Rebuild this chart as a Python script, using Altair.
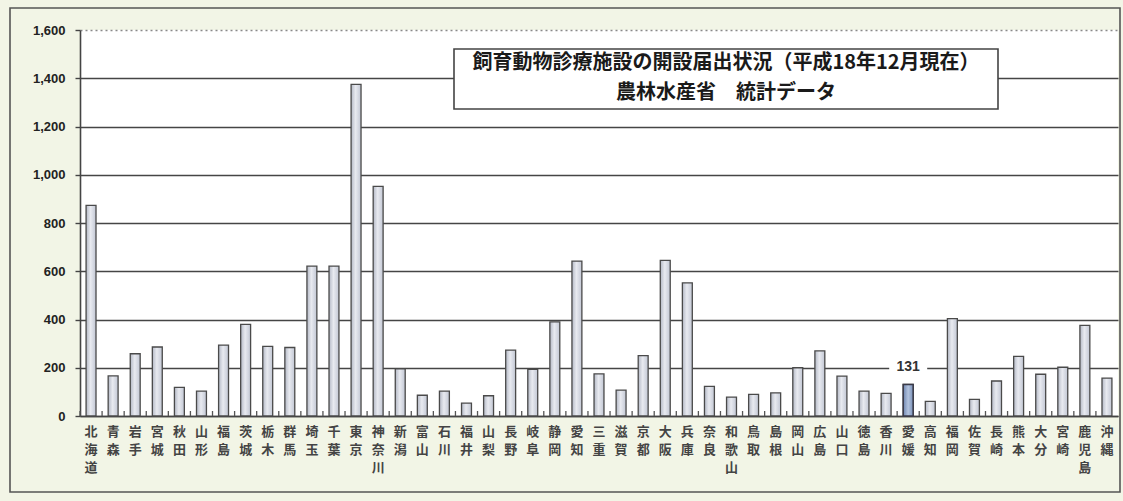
import altair as alt
import pandas as pd

# ---- data ----
prefectures = [
    "北海道", "青森", "岩手", "宮城", "秋田", "山形", "福島", "茨城", "栃木", "群馬",
    "埼玉", "千葉", "東京", "神奈川", "新潟", "富山", "石川", "福井", "山梨", "長野",
    "岐阜", "静岡", "愛知", "三重", "滋賀", "京都", "大阪", "兵庫", "奈良", "和歌山",
    "鳥取", "島根", "岡山", "広島", "山口", "徳島", "香川", "愛媛", "高知", "福岡",
    "佐賀", "長崎", "熊本", "大分", "宮崎", "鹿児島", "沖縄",
]
clinics = [
    873, 166, 258, 286, 119, 103, 294, 380, 289, 284,
    621, 621, 1375, 952, 195, 86, 103, 53, 84, 273,
    193, 390, 642, 175, 107, 250, 645, 552, 123, 78,
    90, 96, 200, 270, 165, 103, 94, 131, 61, 404,
    69, 145, 247, 173, 202, 376, 157,
]
highlight_pref = "愛媛"
y_ticks = [0, 200, 400, 600, 800, 1000, 1200, 1400, 1600]
title_line1 = "飼育動物診療施設の開設届出状況（平成18年12月現在）"
title_line2 = "農林水産省　統計データ"

df = pd.DataFrame({"pref": prefectures, "n": clinics})
one = pd.DataFrame({"k": [0]})

W, H = 1038, 386
STEP = W / len(prefectures)
JP = "Noto Sans CJK JP"

x_enc = alt.X(
    "pref:N",
    sort=prefectures,
    scale=alt.Scale(paddingInner=0.55, paddingOuter=0.275),
    axis=alt.Axis(
        title=None,
        labelExpr="split(datum.label, '')",
        labelAngle=0,
        labelAlign="center",
        labelBaseline="top",
        labelFont=JP,
        labelFontWeight="bold",
        labelFontSize=13,
        labelColor="#444444",
        labelLineHeight=18,
        labelPadding=9,
        ticks=False,
        grid=False,
        domain=True,
        domainColor="#444444",
        domainWidth=1.6,
    ),
)
y_enc = alt.Y(
    "n:Q",
    scale=alt.Scale(domain=[0, 1600], nice=False),
    axis=alt.Axis(
        title=None,
        values=y_ticks,
        format=",d",
        labelFont="Liberation Sans",
        labelFontWeight="bold",
        labelFontSize=13,
        labelColor="#222222",
        labelPadding=10,
        ticks=True,
        tickSize=5,
        tickColor="#444444",
        tickWidth=1.4,
        grid=True,
        gridColor={"condition": {"test": "datum.value == 1600", "value": "#8a8a8a"}, "value": "#454545"},
        gridDash={"condition": {"test": "datum.value == 1600", "value": [2, 3]}, "value": []},
        gridWidth=1.4,
        domain=True,
        domainColor="#444444",
        domainWidth=1.6,
    ),
)

bar_fill = {
    "gradient": "linear", "x1": 0, "x2": 1, "y1": 0, "y2": 0,
    "stops": [
        {"offset": 0, "color": "#b4b9c6"},
        {"offset": 0.45, "color": "#e8eaf0"},
        {"offset": 1, "color": "#c2c7d4"},
    ],
}
hl_fill = {
    "gradient": "linear", "x1": 0, "x2": 1, "y1": 0, "y2": 0,
    "stops": [
        {"offset": 0, "color": "#6f86b0"},
        {"offset": 0.5, "color": "#b3c3de"},
        {"offset": 1, "color": "#7890b8"},
    ],
}

frame = alt.Chart(one).mark_rect(fill="white", fillOpacity=0, stroke="#555555", strokeWidth=1.6).encode(
    x=alt.value(-70), x2=alt.value(1040), y=alt.value(-22), y2=alt.value(462)
)

bars = alt.Chart(df).mark_bar(fill=bar_fill, stroke="#4a4a4a", strokeWidth=1.3).encode(x=x_enc, y=y_enc)

small_ticks = alt.Chart(df).mark_rule(color="#555555", strokeWidth=1.3, xOffset=-STEP / 2).encode(
    x=alt.X("pref:N", sort=prefectures), y=alt.value(H), y2=alt.value(H - 5)
)

hl_bar = alt.Chart(df).transform_filter(alt.datum.pref == highlight_pref).mark_bar(
    fill=hl_fill, stroke="#3a3a48", strokeWidth=1.5
).encode(x=alt.X("pref:N", sort=prefectures), y="n:Q")

hl_mask = alt.Chart(df).transform_filter(alt.datum.pref == highlight_pref).mark_tick(
    orient="horizontal", color="white", opacity=1, size=38, thickness=12, yOffset=-17
).encode(x=alt.X("pref:N", sort=prefectures), y="n:Q")

hl_text = alt.Chart(df).transform_filter(alt.datum.pref == highlight_pref).mark_text(
    dy=-17, font="Liberation Sans", fontWeight="bold", fontSize=14, color="#333333",
    align="center", baseline="middle",
).encode(x=alt.X("pref:N", sort=prefectures), y="n:Q", text="n:Q")

title_box = alt.Chart(one).mark_rect(fill="white", stroke="#444444", strokeWidth=1.6).encode(
    x=alt.value(374), x2=alt.value(918), y=alt.value(19), y2=alt.value(79)
)
title_t1 = alt.Chart(one).mark_text(
    text=title_line1, font=JP, fontWeight="bold", fontSize=20, color="#1a1a1a",
    align="center", baseline="middle",
).encode(x=alt.value(646), y=alt.value(33))
title_t2 = alt.Chart(one).mark_text(
    text=title_line2, font=JP, fontWeight="bold", fontSize=20, color="#1a1a1a",
    align="center", baseline="middle",
).encode(x=alt.value(646), y=alt.value(63))

chart = alt.layer(
    frame, bars, small_ticks, hl_bar, title_box, title_t1, title_t2, hl_mask, hl_text
).properties(
    width=W,
    height=H,
    autosize=alt.AutoSizeParams(type="none"),
    padding={"left": 80, "top": 30, "right": 5, "bottom": 85},
    background="#f2f5e6",
).configure_view(fill="white", stroke=None)

chart.save("out.html", embed_options={"renderer": "svg", "actions": False})
